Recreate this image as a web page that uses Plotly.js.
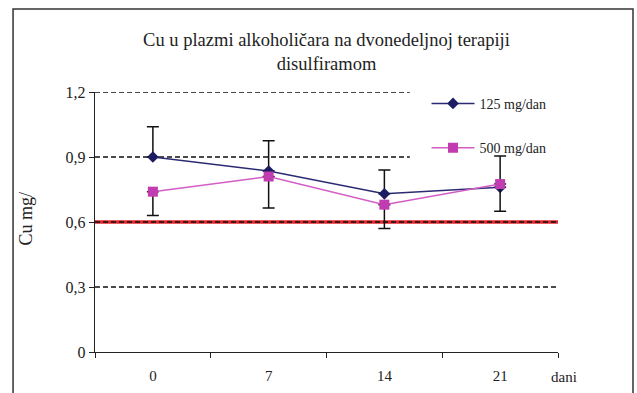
<!DOCTYPE html>
<html>
<head>
<meta charset="utf-8">
<script src="https://cdn.plot.ly/plotly-3.0.1.min.js"></script>
<style>
  html, body { margin: 0; padding: 0; background: #ffffff; }
  #chart { width: 637px; height: 393px; }
</style>
</head>
<body>
<div id="chart"></div>
<script>
// Days of therapy
const days = ['0', '7', '14', '21'];

// Plasma copper (mg/l) for the two disulfiram doses
const cu125 = [0.90, 0.835, 0.73, 0.76];
const cu500 = [0.74, 0.81, 0.68, 0.775];

// Error bars: upper for 125 mg/dan, lower for 500 mg/dan
const err125Plus = [0.14, 0.14, 0.11, 0.145];
const err500Minus = [0.11, 0.145, 0.11, 0.125];

// Reference level
const refLevel = 0.6;

// Y tick labels (decimal comma)
const yTickVals = [0, 0.3, 0.6, 0.9, 1.2];
const yTickText = ['0', '0,3', '0,6', '0,9', '1,2'];

const serif = 'Liberation Serif, Times New Roman, serif';
const zeros = days.map(() => 0);

const traces = [
  {
    type: 'scatter', mode: 'lines+markers', name: '125 mg/dan',
    x: days, y: cu125, legendgroup: 'a',
    line: { color: '#2a2a72', width: 1.5 },
    marker: { symbol: 'diamond', size: 9, color: '#1c1c60' },
    error_y: { type: 'data', symmetric: false, array: err125Plus, arrayminus: zeros,
               color: '#111111', thickness: 1.5, width: 6 }
  },
  {
    type: 'scatter', mode: 'lines+markers', name: '500 mg/dan',
    x: days, y: cu500, legendgroup: 'b',
    line: { color: '#d35cc6', width: 1.5 },
    marker: { symbol: 'square', size: 10, color: '#c03cb0' },
    error_y: { type: 'data', symmetric: false, array: zeros, arrayminus: err500Minus,
               color: '#111111', thickness: 1.5, width: 6 }
  }
];

// Dashed horizontal gridlines; the upper ones stop short of the legend
const gridDash = { color: '#111111', width: 1.4, dash: '5px,3px' };
const gridShapes = yTickVals.filter(v => v > 0).map(v => ({
  type: 'line', layer: 'below', xref: 'paper', yref: 'y',
  x0: 0, x1: v > 0.7 ? 0.68 : 1, y0: v, y1: v, line: gridDash
}));

const layout = {
  width: 637, height: 393,
  margin: { l: 95, r: 79, t: 92, b: 41 },
  paper_bgcolor: '#ffffff', plot_bgcolor: '#ffffff',
  font: { family: serif, size: 14, color: '#222222' },
  title: {
    text: 'Cu u plazmi alkoholičara na dvonedeljnoj terapiji<br>disulfiramom',
    font: { family: serif, size: 18.5, color: '#222222' },
    x: 0.5, xref: 'paper', xanchor: 'center',
    y: 46.5, yref: 'container', yanchor: 'middle'
  },
  xaxis: {
    type: 'category', range: [-0.5, 3.5], fixedrange: true,
    tickson: 'boundaries', ticks: 'outside', ticklen: 5, tickcolor: '#222',
    ticklabelstandoff: 10,
    showline: true, linecolor: '#222', linewidth: 1.2,
    showgrid: false, zeroline: false,
    tickfont: { family: serif, size: 15, color: '#222' }
  },
  yaxis: {
    range: [0, 1.2], fixedrange: true,
    tickvals: yTickVals, ticktext: yTickText,
    ticks: 'outside', ticklen: 5, tickcolor: '#222',
    showline: true, linecolor: '#222', linewidth: 1.2,
    showgrid: false, zeroline: false,
    tickfont: { family: serif, size: 16, color: '#222' }
  },
  legend: {
    x: 0.716, xanchor: 'left', y: 1.016, yanchor: 'top',
    bgcolor: 'rgba(255,255,255,0)', traceorder: 'grouped', tracegroupgap: 23,
    itemwidth: 43,
    font: { family: serif, size: 14, color: '#222' }
  },
  shapes: [
    // reference level line
    { type: 'line', xref: 'paper', x0: 0, x1: 1, yref: 'y', y0: refLevel, y1: refLevel,
      layer: 'below', line: { color: '#e3262a', width: 3.5 } },
    ...gridShapes,
    // outer frame
    { type: 'rect', xref: 'paper', yref: 'paper', x0: -0.177, x1: 1.162, y0: -0.3, y1: 1.319,
      line: { color: '#333333', width: 1.5 }, fillcolor: 'rgba(0,0,0,0)' }
  ],
  annotations: [
    { text: 'Cu mg/', xref: 'paper', yref: 'paper', x: -0.148, xanchor: 'center',
      y: 0.515, yanchor: 'middle',
      textangle: -90, showarrow: false, font: { family: serif, size: 18, color: '#222' } },
    { text: 'dani', xref: 'paper', yref: 'paper', x: 1.012, xanchor: 'center', y: -0.095,
      yanchor: 'middle', showarrow: false, font: { family: serif, size: 15, color: '#222' } }
  ]
};

Plotly.newPlot('chart', traces, layout, { displayModeBar: false, staticPlot: true });
</script>
</body>
</html>
